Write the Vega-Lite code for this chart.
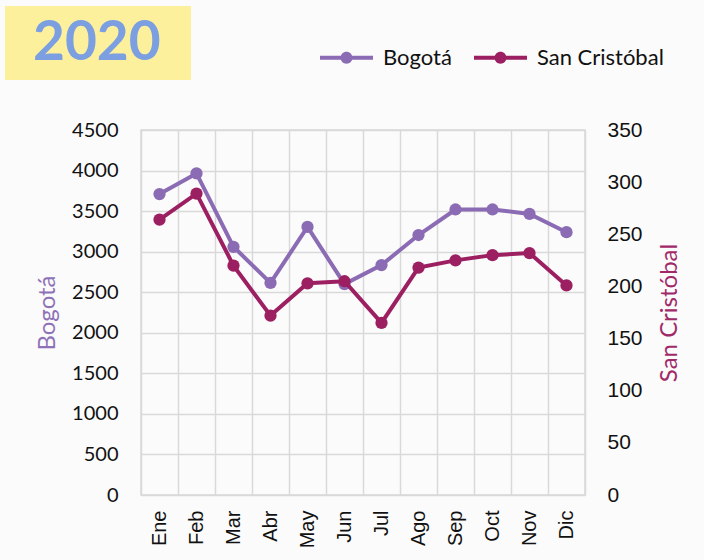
{
  "$schema": "https://vega.github.io/schema/vega-lite/v6.json",
  "width": 444,
  "height": 365,
  "autosize": {"type": "none"},
  "padding": {"left": 141, "top": 130, "right": 119, "bottom": 65},
  "background": "#fbfbfb",
  "data": {
    "values": [
      {"mes": "Ene", "bogota": 3710, "sancristobal": 264, "year": "2020"},
      {"mes": "Feb", "bogota": 3965, "sancristobal": 289, "year": "2020"},
      {"mes": "Mar", "bogota": 3060, "sancristobal": 220, "year": "2020"},
      {"mes": "Abr", "bogota": 2615, "sancristobal": 172, "year": "2020"},
      {"mes": "May", "bogota": 3305, "sancristobal": 203, "year": "2020"},
      {"mes": "Jun", "bogota": 2600, "sancristobal": 205, "year": "2020"},
      {"mes": "Jul", "bogota": 2835, "sancristobal": 165, "year": "2020"},
      {"mes": "Ago", "bogota": 3205, "sancristobal": 218, "year": "2020"},
      {"mes": "Sep", "bogota": 3520, "sancristobal": 225, "year": "2020"},
      {"mes": "Oct", "bogota": 3520, "sancristobal": 230, "year": "2020"},
      {"mes": "Nov", "bogota": 3465, "sancristobal": 232, "year": "2020"},
      {"mes": "Dic", "bogota": 3240, "sancristobal": 201, "year": "2020"}
    ]
  },
  "config": {
    "font": "Lato",
    "view": {"stroke": "#d9d9d9", "strokeWidth": 1.5},
    "axis": {
      "gridColor": "#d9d9d9",
      "gridWidth": 1.5,
      "domain": false,
      "ticks": false,
      "labelColor": "#111111",
      "labelFont": "Lato",
      "labelFontSize": 20,
      "titleFont": "Lato",
      "titleFontSize": 24,
      "titleFontWeight": "normal"
    }
  },
  "encoding": {
    "x": {
      "field": "mes",
      "type": "ordinal",
      "sort": null,
      "bandPosition": 0.5,
      "scale": {"type": "band", "paddingInner": 0, "paddingOuter": 0},
      "axis": {
        "title": null,
        "labelAngle": -90,
        "labelFont": "Liberation Sans",
        "labelFontSize": 20,
        "labelPadding": 15,
        "labelAlign": "right",
        "labelBaseline": "middle",
        "tickBand": "extent",
        "grid": true
      }
    }
  },
  "layer": [
    {
      "mark": {"type": "line", "strokeWidth": 4, "point": {"filled": true, "size": 150}},
      "encoding": {
        "y": {
          "field": "bogota",
          "type": "quantitative",
          "scale": {"domain": [0, 4500]},
          "axis": {
            "title": "Bogotá",
            "titleColor": "#8e72b8",
            "format": "d",
            "values": [0, 500, 1000, 1500, 2000, 2500, 3000, 3500, 4000, 4500],
            "grid": true,
            "labelPadding": 23,
            "titlePadding": 12
          }
        },
        "color": {
          "datum": "Bogotá",
          "type": "nominal",
          "scale": {"domain": ["Bogotá", "San Cristóbal"], "range": ["#8a6bb4", "#9c1f61"]},
          "legend": {
            "orient": "none",
            "legendX": 179,
            "legendY": -99,
            "direction": "horizontal",
            "title": null,
            "labelFont": "Lato",
            "labelFontSize": 22,
            "labelColor": "#111111",
            "symbolType": "M-1,-0.075L1,-0.075L1,0.075L-1,0.075Z M0.226,0A0.226,0.226,0,1,1,-0.226,0A0.226,0.226,0,1,1,0.226,0Z",
            "symbolSize": 2809,
            "symbolStrokeWidth": 0,
            "labelOffset": 10,
            "columnPadding": 22,
            "encode": {"symbols": {"update": {"fill": {"scale": "color", "field": "value"}, "opacity": {"value": 1}}}}
          }
        },
        "opacity": {
          "field": "year",
          "type": "nominal",
          "scale": {"range": [1]},
          "legend": {
            "orient": "none",
            "legendX": -136,
            "legendY": -124,
            "title": ".",
            "titleOrient": "right",
            "titleColor": "#fcf09c",
            "titleFontSize": 10,
            "titlePadding": 18,
            "fillColor": "#fcf09c",
            "padding": 9,
            "labelFont": "Lato",
            "labelFontSize": 55,
            "labelFontWeight": "bold",
            "labelColor": "#7b9fe0",
            "symbolSize": 100,
            "symbolStrokeWidth": 0,
            "symbolStrokeColor": "transparent",
            "symbolFillColor": "transparent",
            "labelOffset": -36,
            "encode": {"symbols": {"update": {"opacity": {"value": 0}, "fillOpacity": {"value": 0}, "strokeOpacity": {"value": 0}, "stroke": {"value": "transparent"}, "fill": {"value": "transparent"}, "strokeWidth": {"value": 0}}}}
          }
        }
      }
    },
    {
      "mark": {"type": "line", "strokeWidth": 4, "point": {"filled": true, "size": 150}},
      "encoding": {
        "y": {
          "field": "sancristobal",
          "type": "quantitative",
          "scale": {"domain": [0, 350]},
          "axis": {
            "orient": "right",
            "title": "San Cristóbal",
            "titleColor": "#a02a68",
            "titleAngle": -90,
            "labelFont": "Liberation Sans",
            "labelFontSize": 21,
            "values": [0, 50, 100, 150, 200, 250, 300, 350],
            "grid": false,
            "labelPadding": 22,
            "titlePadding": 39
          }
        },
        "color": {"datum": "San Cristóbal", "type": "nominal"}
      }
    }
  ],
  "resolve": {"scale": {"y": "independent"}}
}
